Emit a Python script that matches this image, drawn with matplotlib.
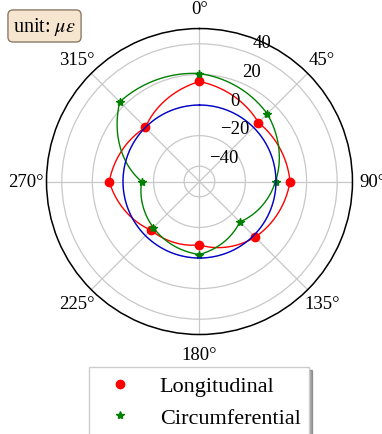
import numpy as np
import matplotlib
matplotlib.use("Agg")
import matplotlib.pyplot as plt

# strain at the eight gauge positions (unit: micro-strain)
angles_deg = [0, 45, 90, 135, 180, 225, 270, 315]
longitudinal = [15.4, 4.5, 9.2, 1.4, -8.6, -5.1, 9.0, 0.0]
circumferential = [20.6, 12.6, -0.3, -12.7, -2.3, -7.4, -12.2, 23.7]
zero_line = [0, 0, 0, 0, 0, 0, 0, 0]

r_ticks = [-40, -20, 0, 20, 40]
r_ticklabels = ["\u221240", "\u221220", "0", "20", "40"]
theta_ticklabels = ["0°", "45°", "90°", "135°", "180°", "225°", "270°", "315°"]

plt.rcParams["font.family"] = ["Liberation Serif", "DejaVu Serif"]
plt.rcParams["mathtext.fontset"] = "stix"

theta = np.deg2rad(angles_deg)
# the curves follow r(theta) straight from gauge to gauge (drawn as spiral arcs)
theta_fine = np.linspace(0, 2 * np.pi, 721)


def arc_line(vals):
    return np.interp(theta_fine, np.append(theta, 2 * np.pi), np.append(vals, vals[0]))


fig = plt.figure(figsize=(3.82, 4.35), dpi=100)
ax = fig.add_axes([0.1217, 0.2287, 0.801, 0.7034], projection="polar")
ax.set_theta_zero_location("N")
ax.set_theta_direction(-1)
ax.set_ylim(-50, 50)

ax.plot(theta_fine, arc_line(longitudinal), color="red", lw=1.0, zorder=3)
ax.plot(theta_fine, arc_line(circumferential), color="green", lw=1.0, zorder=3)
ax.plot(theta, longitudinal, ls="none", marker="o", ms=6,
        color="red", label="Longitudinal", zorder=4)
ax.plot(theta, circumferential, ls="none", marker="*", ms=6,
        color="green", label="Circumferential", zorder=4)
ax.plot(theta_fine, arc_line(zero_line), color="mediumblue", lw=1.0, zorder=5)

ax.set_xticks(theta)
ax.set_xticklabels(theta_ticklabels, fontsize=13.5)
ax.tick_params(axis="x", pad=4)
ax.set_yticks(r_ticks)
ax.set_yticklabels([])
for v, lab in zip(r_ticks, r_ticklabels):
    ax.text(np.deg2rad(21), v + 7, lab, fontsize=13.5, ha="left", va="center", zorder=6)

ax.grid(True, color="#c8c8c8", lw=0.9)
ax.spines["polar"].set_color("black")
ax.spines["polar"].set_linewidth(1.1)

fig.text(0.034, 0.938, r"unit: $\mu\varepsilon$", fontsize=14.5, va="center", ha="left",
         bbox=dict(boxstyle="round,pad=0.25", fc="#f6e6cf", ec="#8a7a68", lw=1))

leg = fig.legend(loc="upper center", bbox_to_anchor=(0.521, 0.154), borderaxespad=0,
                 fontsize=16, fancybox=False, shadow=True, edgecolor="#cccccc",
                 framealpha=1)

fig.savefig("out.png", dpi=100)
